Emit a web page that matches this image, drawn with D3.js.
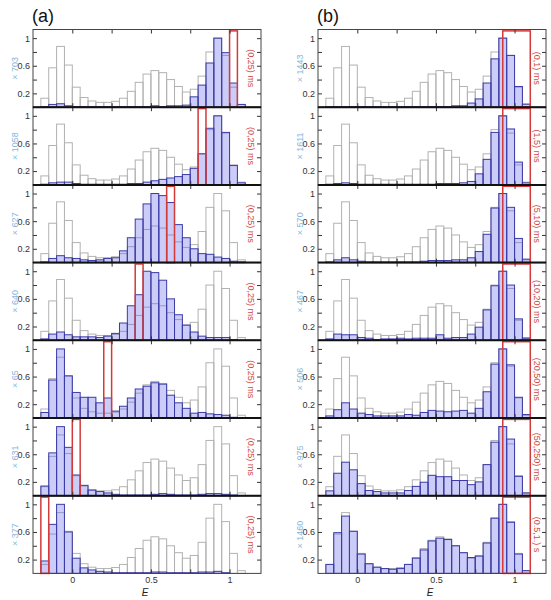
<!DOCTYPE html>
<html><head><meta charset="utf-8">
<script src="https://cdn.jsdelivr.net/npm/d3@7/dist/d3.min.js"></script>
<style>body{margin:0;background:#fff}svg{display:block;font-family:"Liberation Sans",Arial,sans-serif}</style>
</head><body><svg id="c" width="551" height="600"></svg>
<script>
// ---- data ----
const binLeft = [-0.2,-0.15,-0.1,-0.05,0,0.05,0.1,0.15,0.2,0.25,0.3,0.35,0.4,0.45,0.5,0.55,0.6,0.65,0.7,0.75,0.8,0.85,0.9,0.95,1.0,1.05];
const binWidth = 0.05;
const overall = [0.13,0.57,0.88,0.61,0.29,0.14,0.09,0.07,0.07,0.085,0.13,0.23,0.36,0.48,0.53,0.50,0.40,0.30,0.22,0.26,0.45,0.80,1.0,0.75,0.29,0.04];

const A1 = [0.01,0.04,0.05,0.02,0.01,0.01,0.01,0.01,0.01,0.01,0.01,0.01,0.01,0.01,0.02,0.01,0.02,0.02,0.03,0.15,0.32,0.64,1.0,0.79,0.35,0.04];
const A2 = [0.01,0.03,0.04,0.04,0.02,0.01,0.01,0.01,0.01,0.01,0.01,0.02,0.02,0.04,0.06,0.08,0.10,0.12,0.15,0.24,0.45,0.82,1.0,0.76,0.28,0.03];
const A3 = [0.01,0.06,0.10,0.07,0.06,0.04,0.03,0.04,0.06,0.07,0.17,0.36,0.63,0.85,1.0,0.97,0.87,0.55,0.36,0.20,0.13,0.12,0.08,0.06,0.02,0.01];
const A4 = [0.02,0.09,0.12,0.08,0.05,0.05,0.05,0.04,0.06,0.10,0.25,0.50,0.66,1.0,0.98,0.87,0.60,0.37,0.22,0.12,0.06,0.04,0.04,0.04,0.01,0.0];
const A5 = [0.08,0.55,1.0,0.61,0.37,0.30,0.30,0.22,0.29,0.10,0.17,0.29,0.42,0.46,0.51,0.49,0.33,0.22,0.14,0.07,0.08,0.06,0.05,0.04,0.01,0.0];
const A6 = [0.14,0.62,1.0,0.70,0.30,0.15,0.08,0.06,0.04,0.02,0.01,0.01,0.01,0.01,0.02,0.03,0.02,0.01,0.01,0.01,0.02,0.03,0.03,0.02,0.01,0.0];
const A7 = [0.18,0.71,1.0,0.60,0.22,0.08,0.05,0.03,0.02,0.01,0.01,0.01,0.01,0.01,0.02,0.02,0.01,0.01,0.01,0.01,0.02,0.02,0.03,0.01,0.0,0.0];

const B1 = [0.01,0.01,0.01,0.01,0.01,0.01,0.01,0.01,0.01,0.01,0.01,0.01,0.01,0.01,0.01,0.01,0.02,0.02,0.06,0.12,0.35,0.70,1.0,0.75,0.30,0.045];
const B2 = [0.01,0.02,0.03,0.02,0.01,0.01,0.01,0.01,0.01,0.01,0.01,0.01,0.01,0.01,0.02,0.02,0.02,0.03,0.05,0.16,0.37,0.76,1.0,0.81,0.33,0.03];
const B3 = [0.01,0.04,0.07,0.04,0.02,0.01,0.01,0.01,0.01,0.01,0.01,0.01,0.02,0.03,0.03,0.03,0.04,0.04,0.07,0.16,0.41,0.79,1.0,0.80,0.35,0.05];
const B4 = [0.02,0.09,0.08,0.08,0.04,0.03,0.01,0.02,0.02,0.03,0.02,0.03,0.03,0.03,0.08,0.03,0.04,0.04,0.09,0.19,0.44,0.79,1.0,0.80,0.31,0.03];
const B5 = [0.03,0.12,0.22,0.13,0.07,0.05,0.03,0.03,0.03,0.03,0.05,0.04,0.08,0.11,0.10,0.09,0.10,0.11,0.07,0.14,0.38,0.78,1.0,0.77,0.30,0.05];
const B6 = [0.07,0.325,0.485,0.375,0.175,0.075,0.06,0.04,0.04,0.04,0.075,0.135,0.195,0.295,0.275,0.275,0.22,0.22,0.16,0.20,0.45,0.775,1.0,0.82,0.28,0.04];
const B7 = [0.13,0.59,0.83,0.61,0.28,0.14,0.09,0.07,0.06,0.07,0.13,0.22,0.34,0.47,0.51,0.49,0.40,0.30,0.23,0.25,0.44,0.80,1.0,0.74,0.28,0.04];

const countsA = ["× 703","× 1058","× 627","× 640","× 65","× 631","× 377"];
const countsB = ["× 1443","× 1611","× 570","× 467","× 506","× 975","× 1460"];
const windowsA = ["(0,25) ms","(0,25) ms","(0,25) ms","(0,25) ms","(0,25) ms","(0,25) ms","(0,25) ms"];
const windowsB = ["(0,1) ms","(1,5) ms","(5,10) ms","(10,20) ms","(20,50) ms","(50,250) ms","(0.5,1.) s"];
const boxA = [[1.0,1.05],[0.8,0.85],[0.6,0.65],[0.4,0.45],[0.2,0.25],[0.0,0.05],[-0.2,-0.15]];
const boxB = [[0.925,1.1],[0.925,1.1],[0.925,1.1],[0.925,1.1],[0.925,1.1],[0.925,1.1],[0.925,1.1]];
const xTicks = [0,0.25,0.5,0.75,1];
const xTickLabels = [0,0.5,1];
const yTicks = [0.2,0.4,0.6,0.8,1];
const yTickLabels = [0.2,0.6,1];

// ---- layout ----
const svg = d3.select("#c");
const top0 = 29.5, pH = 77.7;
const columns = [
  {x0:33, x1:261, tag:"(a)", series:[A1,A2,A3,A4,A5,A6,A7], counts:countsA, wins:windowsA, boxes:boxA, lx:14.5, rx:250.5},
  {x0:318, x1:546, tag:"(b)", series:[B1,B2,B3,B4,B5,B6,B7], counts:countsB, wins:windowsB, boxes:boxB, lx:300, rx:536.5}
];
const fmt = d => d===1 ? "1" : d===0 ? "0" : String(d);

columns.forEach(col => {
  const x = d3.scaleLinear().domain([-0.25,1.2]).range([col.x0,col.x1]);
  svg.append("text").attr("x", col.x0 - 1).attr("y", 22).attr("font-size", 18).attr("fill","#111").text(col.tag);

  col.series.forEach((vals, i) => {
    const yt = top0 + i*pH, yb = yt + pH;
    const y = d3.scaleLinear().domain([0,1.125]).range([yb, yt]);
    const g = svg.append("g");

    // overall histogram (gray outline)
    g.selectAll("rect.gray").data(binLeft).join("rect")
      .attr("x", d => x(d)).attr("width", d => x(d+binWidth)-x(d))
      .attr("y", (d,k) => y(overall[k])).attr("height", (d,k) => y(0)-y(overall[k]))
      .attr("fill","none").attr("stroke","#b2b2b2").attr("stroke-width",1);

    // slice histogram (blue)
    g.selectAll("rect.blue").data(binLeft).join("rect")
      .attr("x", d => x(d)).attr("width", d => x(d+binWidth)-x(d))
      .attr("y", (d,k) => y(vals[k])).attr("height", (d,k) => y(0)-y(vals[k]))
      .attr("fill","rgba(95,95,235,0.32)").attr("stroke","#3b3ba6").attr("stroke-width",1);

    // red selection box
    const b = col.boxes[i];
    g.append("rect").attr("x", x(b[0])).attr("width", x(b[1])-x(b[0]))
      .attr("y", y(1.105)).attr("height", y(0)-y(1.105))
      .attr("fill","none").attr("stroke","#d43a3a").attr("stroke-width",1.5);

    // axes (inward ticks)
    const ax = (a) => a.tickSizeOuter(0);
    const gl = g.append("g").attr("transform",`translate(${col.x0},0)`)
      .call(ax(d3.axisLeft(y).tickValues(yTicks).tickSize(-4).tickPadding(3)
        .tickFormat(d => yTickLabels.includes(d) ? fmt(d) : "")));
    const gr = g.append("g").attr("transform",`translate(${col.x1},0)`)
      .call(ax(d3.axisRight(y).tickValues(yTicks).tickSize(-4).tickFormat("")));
    const gt = g.append("g").attr("transform",`translate(0,${yt})`)
      .call(ax(d3.axisTop(x).tickValues(xTicks).tickSize(-4).tickFormat("")));
    const gb = g.append("g").attr("transform",`translate(0,${yb})`)
      .call(ax(d3.axisBottom(x).tickValues(xTicks).tickSize(-4).tickPadding(3)
        .tickFormat(d => (i===6 && xTickLabels.includes(d)) ? fmt(d) : "")));
    [gl,gr,gt,gb].forEach(a => {
      a.select(".domain").remove();
      a.selectAll("line").attr("stroke","#333");
      a.selectAll("text").attr("font-size",9).attr("fill","#333").attr("font-family","Liberation Sans, Arial, sans-serif");
    });

    // frame
    g.append("rect").attr("x", col.x0).attr("y", yt).attr("width", col.x1-col.x0).attr("height", pH)
      .attr("fill","none").attr("stroke","#444").attr("stroke-width",1);

    // labels
    const cy = (yt+yb)/2;
    g.append("text").attr("transform",`translate(${col.lx},${cy}) rotate(-90)`)
      .attr("text-anchor","middle").attr("dominant-baseline","central")
      .attr("font-size",9).attr("fill","#86b4dc").text(col.counts[i]);
    g.append("text").attr("transform",`translate(${col.rx},${cy}) rotate(90)`)
      .attr("text-anchor","middle").attr("dominant-baseline","central")
      .attr("font-size",9).attr("fill","#d04848").text(col.wins[i]);
  });

  // separators between panels
  for (let i=1;i<7;i++){
    const yy = top0 + i*pH;
    svg.append("line").attr("x1",col.x0).attr("x2",col.x1).attr("y1",yy).attr("y2",yy)
      .attr("stroke","#111").attr("stroke-width",2);
  }

  svg.append("text").attr("x",(col.x0+col.x1)/2 - 2).attr("y",596).attr("text-anchor","middle")
    .attr("font-size",10).attr("font-style","italic").attr("fill","#222").text("E");
});
</script></body></html>
